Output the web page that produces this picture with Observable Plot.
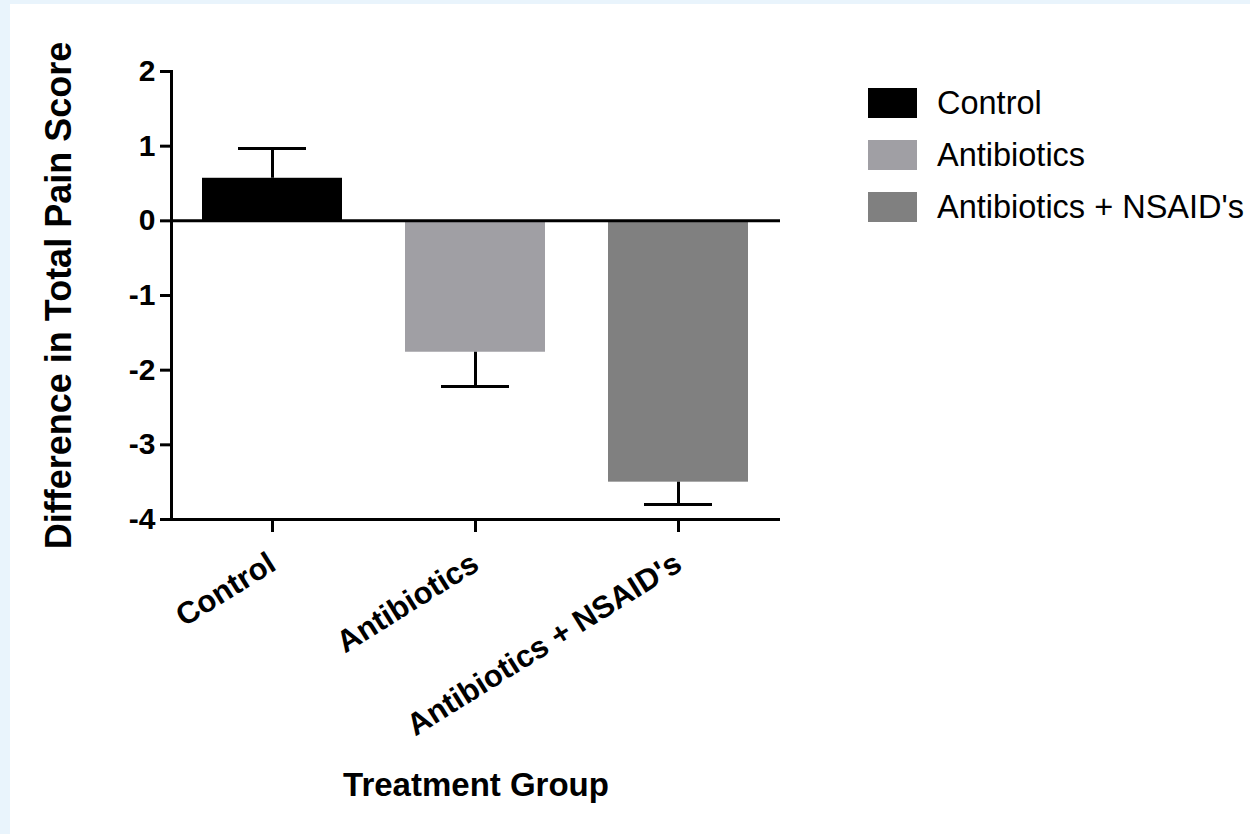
<!DOCTYPE html>
<html>
<head>
<meta charset="utf-8">
<script src="https://cdn.jsdelivr.net/npm/d3@7"></script>
<script src="https://cdn.jsdelivr.net/npm/@observablehq/plot@0.6"></script>
<style>
  html, body { margin: 0; padding: 0; background: #e9f4fc; width: 1250px; height: 834px; overflow: hidden; }
  #panel { position: absolute; left: 10px; top: 4px; width: 1240px; height: 830px; background: #ffffff; }
  #chart { position: absolute; left: 0; top: 0; }
  #legend { position: absolute; left: 858px; top: 84px; font-family: 'Liberation Sans', Arial, sans-serif; font-size: 32.5px; color: #000; }
  .row { display: flex; align-items: center; height: 30px; margin-bottom: 22px; }
  .sw { width: 49px; height: 30px; margin-right: 20px; flex: none; }
  .lbl { line-height: 30px; white-space: nowrap; }
</style>
</head>
<body>
<div id="panel">
  <div id="chart"></div>
  <div id="legend"></div>
</div>
<script>
// ---- data ----
const categories = ["Control", "Antibiotics", "Antibiotics + NSAID's"];
const means = [0.57, -1.76, -3.50];
const errors = [0.40, 0.46, 0.30];
const yTicks = [-4, -3, -2, -1, 0, 1, 2];
const xTitle = "Treatment Group";
const yTitle = "Difference in Total Pain Score";

// ---- styles ----
const colors = ["#000000", "#a09fa4", "#808080"];

const data = categories.map((c, i) => ({
  group: c,
  mean: means[i],
  end: means[i] + Math.sign(means[i]) * errors[i]
}));

const chart = Plot.plot({
  width: 1240,
  height: 830,
  marginLeft: 161,
  marginRight: 470,
  marginTop: 67,
  marginBottom: 315,
  style: {
    fontFamily: "'Liberation Sans', Arial, sans-serif",
    fontWeight: "bold",
    fontSize: "30px",
    color: "#000",
    background: "transparent",
    overflow: "visible"
  },
  x: { domain: categories, paddingInner: 0.31, paddingOuter: 0.155, label: null },
  y: { domain: [-4, 2], label: null },
  color: { domain: categories, range: colors },
  marks: [
    Plot.barY(data, { x: "group", y: "mean", fill: "group" }),
    Plot.ruleX(data, { x: "group", y1: "mean", y2: "end", stroke: "#000", strokeWidth: 3 }),
    Plot.tickY(data, { x: "group", y: "end", stroke: "#000", strokeWidth: 3, insetLeft: 36, insetRight: 36 }),
    Plot.ruleY([0], { stroke: "#000", strokeWidth: 3 }),
    Plot.ruleY([-4], { stroke: "#000", strokeWidth: 3, insetLeft: -11 }),
    Plot.frame({ anchor: "left", stroke: "#000", strokeWidth: 3 }),
    Plot.axisY({ ticks: yTicks, tickSize: 11, tickPadding: 5, stroke: "#000", strokeWidth: 3, tickFormat: d => String(d), label: null }),
    Plot.axisX({ tickSize: 13, tickPadding: 28, tickRotate: -32, stroke: "#000", strokeWidth: 3, fontSize: 31, label: null }),
    Plot.text([yTitle], { text: d => d, frameAnchor: "left", textAnchor: "middle", rotate: -90, dx: -100.5, lineAnchor: "bottom", fontSize: 36 }),
    Plot.text([xTitle], { text: d => d, frameAnchor: "bottom", textAnchor: "middle", dy: 276, lineAnchor: "bottom", fontSize: 33 })
  ]
});
document.getElementById("chart").appendChild(chart);

const legend = document.getElementById("legend");
categories.forEach((c, i) => {
  const row = document.createElement("div");
  row.className = "row";
  const sw = document.createElement("div");
  sw.className = "sw";
  sw.style.background = colors[i];
  const lbl = document.createElement("span");
  lbl.className = "lbl";
  lbl.textContent = c;
  row.appendChild(sw);
  row.appendChild(lbl);
  legend.appendChild(row);
});
</script>
</body>
</html>
